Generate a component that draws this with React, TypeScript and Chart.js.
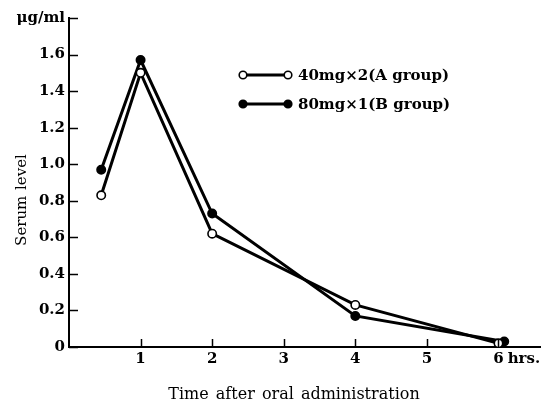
import { useEffect, useRef } from "react";
import { Chart, registerables } from "chart.js";

Chart.register(...registerables);

// ---- data ----
const timeA = [0.45, 1, 2, 4, 6];
const groupA = [0.83, 1.5, 0.62, 0.23, 0.02];
const timeB = [0.45, 1, 2, 4, 6.08];
const groupB = [0.97, 1.57, 0.73, 0.17, 0.03];
const xTickValues = [1, 2, 3, 4, 5, 6];
const yTickValues = [0, 0.2, 0.4, 0.6, 0.8, 1.0, 1.2, 1.4, 1.6, 1.8];
const yTickLabels = ["0", "0.2", "0.4", "0.6", "0.8", "1.0", "1.2", "1.4", "1.6", "μg/ml"];
const seriesLabels = ["40mg×2(A group)", "80mg×1(B group)"];
const xTitle = "Time after oral administration";
const yTitle = "Serum level";
const xUnit = "hrs.";

const FAMILY = "'DejaVu Serif', 'Liberation Serif', serif";
const TICK_SIZE = 15;

const decorPlugin = {
  id: "decor",
  afterDraw(chart: any) {
    const ctx: CanvasRenderingContext2D = chart.ctx;
    const xs = chart.scales.x;
    const ys = chart.scales.y;
    const { left, bottom } = chart.chartArea;
    ctx.save();
    ctx.strokeStyle = "#000";
    ctx.fillStyle = "#000";
    ctx.lineWidth = 1.5;
    // inward tick marks
    ys.ticks.forEach((t: any) => {
      const y = Math.round(ys.getPixelForValue(t.value)) + 0.5;
      ctx.beginPath();
      ctx.moveTo(left, y);
      ctx.lineTo(left + 9, y);
      ctx.stroke();
    });
    xs.ticks.forEach((t: any) => {
      const x = Math.round(xs.getPixelForValue(t.value)) + 0.5;
      ctx.beginPath();
      ctx.moveTo(x, bottom);
      ctx.lineTo(x, bottom - 8);
      ctx.stroke();
    });
    // unit after last x tick label
    ctx.font = `bold ${TICK_SIZE}px ${FAMILY}`;
    ctx.textBaseline = "middle";
    ctx.textAlign = "left";
    const last = xTickValues[xTickValues.length - 1];
    const x6 = xs.getPixelForValue(last);
    const w6 = ctx.measureText(String(last)).width;
    const labelY = xs.top + 3 + (TICK_SIZE * 1.2) / 2;
    ctx.fillText(xUnit, x6 + w6 / 2 + 4, labelY);

    // axis titles
    ctx.font = `16px ${FAMILY}`;
    ctx.textAlign = "center";
    ctx.textBaseline = "alphabetic";
    (ctx as any).wordSpacing = "2px";
    ctx.fillText(xTitle, 294, 399);
    ctx.font = `15px ${FAMILY}`;
    (ctx as any).wordSpacing = "1px";
    ctx.save();
    ctx.translate(26, 200);
    ctx.rotate(-Math.PI / 2);
    ctx.fillText(yTitle, 0, 0);
    ctx.restore();
    (ctx as any).wordSpacing = "0px";

    // legend
    const rows = [75, 104];
    chart.data.datasets.forEach((ds: any, i: number) => {
      const y = rows[i];
      const x1 = 243;
      const x2 = 288;
      ctx.lineWidth = 2.8;
      ctx.strokeStyle = "#000";
      ctx.beginPath();
      ctx.moveTo(x1, y);
      ctx.lineTo(x2, y);
      ctx.stroke();
      [x1, x2].forEach((px) => {
        ctx.beginPath();
        ctx.arc(px, y, 3.8, 0, Math.PI * 2);
        ctx.fillStyle = ds.pointBackgroundColor;
        ctx.fill();
        ctx.lineWidth = 1.6;
        ctx.stroke();
      });
      ctx.fillStyle = "#000";
      ctx.font = `bold 15px ${FAMILY}`;
      ctx.textAlign = "left";
      ctx.textBaseline = "middle";
      ctx.fillText(ds.label, 298, y + 1);
    });
    ctx.restore();
  },
};

export default function App() {
  const ref = useRef<HTMLCanvasElement | null>(null);
  useEffect(() => {
    document.body.style.margin = "0";
    const canvas = ref.current;
    if (!canvas) return;
    const chart = new Chart(canvas, {
      type: "line",
      data: {
        datasets: [
          {
            label: seriesLabels[0],
            data: timeA.map((t, i) => ({ x: t, y: groupA[i] })),
            borderColor: "#000",
            borderWidth: 3,
            pointRadius: 4.2,
            pointBorderWidth: 1.6,
            pointBackgroundColor: "#fff",
            pointBorderColor: "#000",
            tension: 0,
          },
          {
            label: seriesLabels[1],
            data: timeB.map((t, i) => ({ x: t, y: groupB[i] })),
            borderColor: "#000",
            borderWidth: 3,
            pointRadius: 4.2,
            pointBorderWidth: 1.6,
            pointBackgroundColor: "#000",
            pointBorderColor: "#000",
            tension: 0,
          },
        ],
      },
      options: {
        responsive: false,
        animation: false,
        devicePixelRatio: 1,
        layout: { padding: { top: 18, right: 13, left: 0, bottom: 0 } },
        plugins: { legend: { display: false }, tooltip: { enabled: false } },
        scales: {
          x: {
            type: "linear",
            min: 0,
            max: 6.58,
            afterBuildTicks: (s: any) => {
              s.ticks = xTickValues.map((v) => ({ value: v }));
            },
            afterFit: (s: any) => {
              s.height = 57;
            },
            grid: { display: false, drawTicks: false },
            border: { display: true, color: "#000", width: 2 },
            ticks: {
              color: "#000",
              padding: 3,
              maxRotation: 0,
              autoSkip: false,
              font: { family: FAMILY, size: TICK_SIZE, weight: "bold" },
              callback: (v: any) => String(v),
            },
          },
          y: {
            type: "linear",
            min: 0,
            max: 1.8,
            afterBuildTicks: (s: any) => {
              s.ticks = yTickValues.map((v) => ({ value: v }));
            },
            afterFit: (s: any) => {
              s.width = 69;
            },
            grid: { display: false, drawTicks: false },
            border: { display: true, color: "#000", width: 2 },
            ticks: {
              color: "#000",
              padding: 4,
              autoSkip: false,
              font: { family: FAMILY, size: TICK_SIZE, weight: "bold" },
              callback: (v: any) => {
                const i = yTickValues.findIndex((t) => Math.abs(t - Number(v)) < 1e-6);
                return i >= 0 ? yTickLabels[i] : "";
              },
            },
          },
        },
      },
      plugins: [decorPlugin],
    });
    return () => chart.destroy();
  }, []);
  return (
    <div style={{ position: "fixed", left: 0, top: 0, width: 553, height: 404, background: "#fff" }}>
      <canvas ref={ref} width={553} height={404} />
    </div>
  );
}
